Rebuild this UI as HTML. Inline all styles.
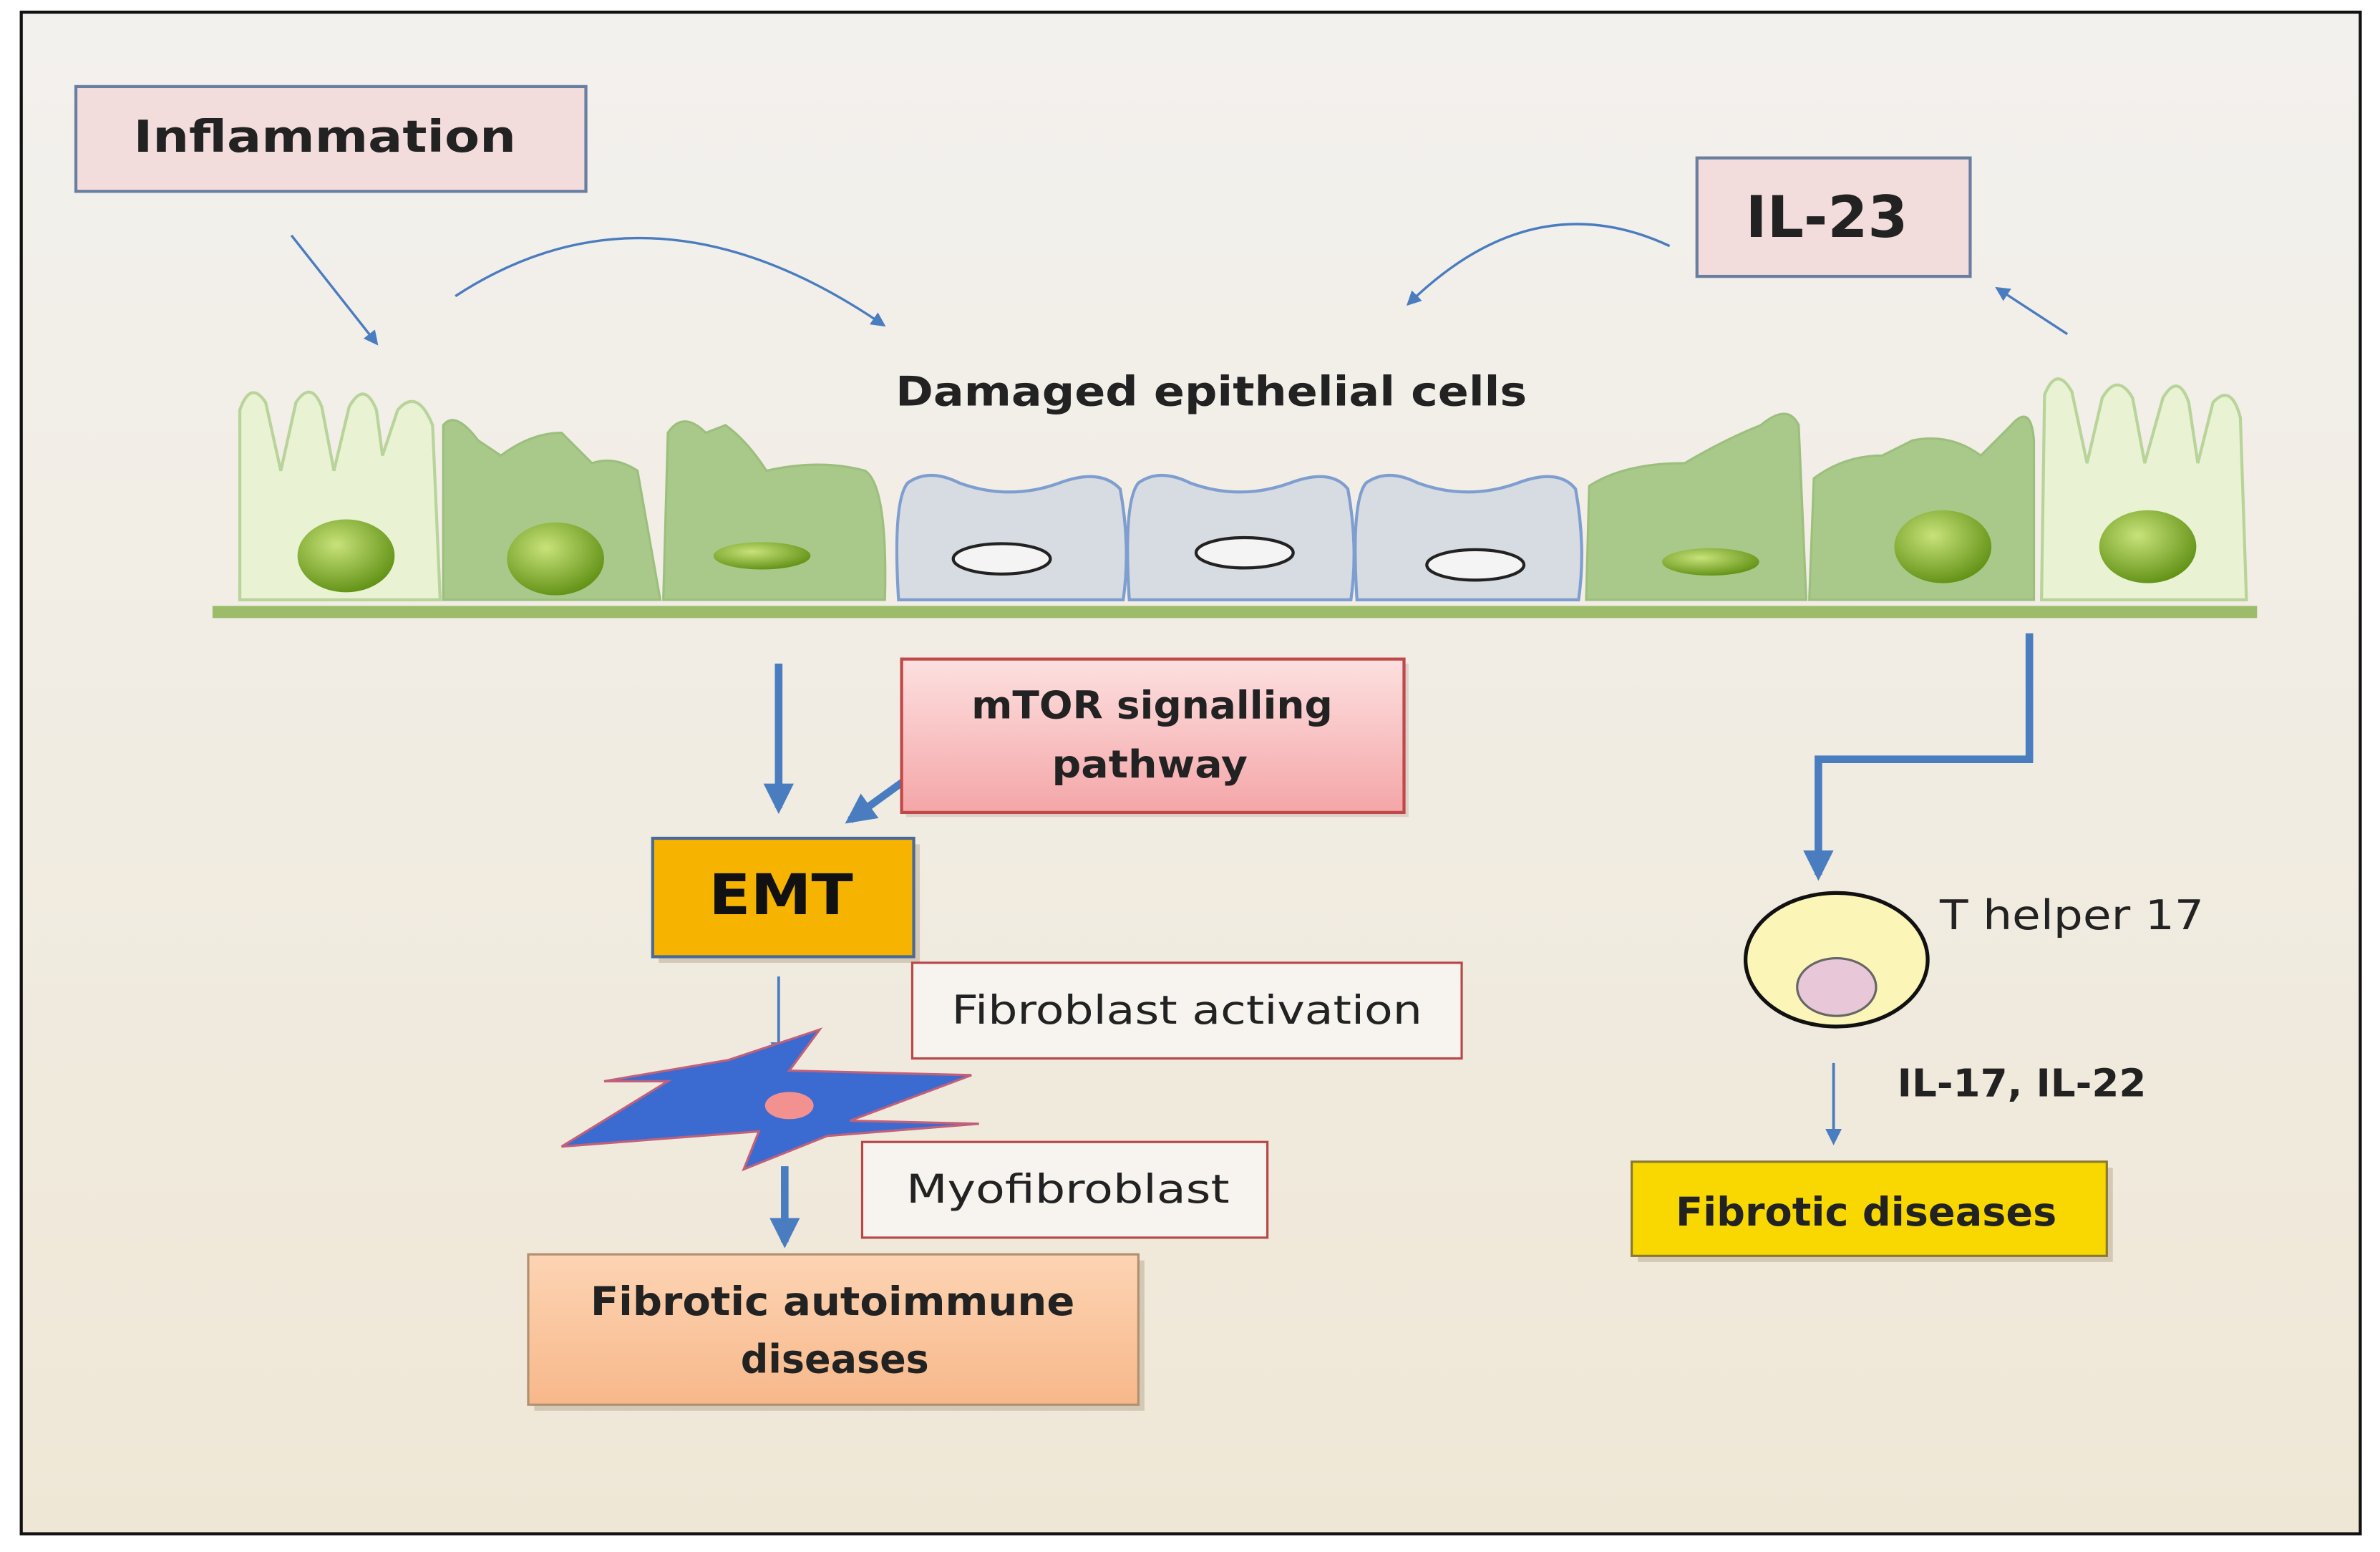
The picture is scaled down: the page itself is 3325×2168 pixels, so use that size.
<!DOCTYPE html>
<html><head><meta charset="utf-8"><style>
html,body{margin:0;padding:0;background:#fff}
svg{display:block}
text{font-family:"DejaVu Sans","Liberation Sans",sans-serif}
</style></head><body>
<svg width="3325" height="2168" viewBox="0 0 1568 1022" preserveAspectRatio="none" xmlns="http://www.w3.org/2000/svg">
<defs>
<linearGradient id="bg" x1="0" y1="0" x2="0" y2="1"><stop offset="0" stop-color="#f3f1ee"/><stop offset="1" stop-color="#efe7d6"/></linearGradient>
<linearGradient id="pink" x1="0" y1="0" x2="0" y2="1"><stop offset="0" stop-color="#fde0e0"/><stop offset="1" stop-color="#f4a6a8"/></linearGradient>
<linearGradient id="peach" x1="0" y1="0" x2="0" y2="1"><stop offset="0" stop-color="#fdd4b4"/><stop offset="1" stop-color="#f7b88a"/></linearGradient>
<radialGradient id="nuc" cx="0.4" cy="0.35" r="0.7"><stop offset="0" stop-color="#c8e27a"/><stop offset="1" stop-color="#5e8f12"/></radialGradient>
<marker id="ah" viewBox="0 0 10 10" refX="8" refY="5" markerWidth="6" markerHeight="6" orient="auto"><path d="M0,0 L10,5 L0,10 z" fill="#4a7cc0"/></marker>
<marker id="ah2" viewBox="0 0 10 10" refX="8" refY="5" markerWidth="4" markerHeight="4" orient="auto"><path d="M0,0 L10,5 L0,10 z" fill="#4a7cc0"/></marker>
</defs>
<rect x="0" y="0" width="1568" height="1022" fill="#fff"/>
<rect x="14" y="8" width="1541" height="1002" fill="url(#bg)" stroke="#111" stroke-width="2"/>

<rect x="50" y="57" width="336" height="69" fill="#f2dcdc" stroke="#6a7fa0" stroke-width="2"/>
<text x="88" y="100" font-size="29" font-weight="bold" textLength="252" lengthAdjust="spacingAndGlyphs" fill="#222">Inflammation</text>
<rect x="1118" y="104" width="180" height="78" fill="#f2dcdc" stroke="#6a7fa0" stroke-width="2"/>
<text x="1150" y="156" font-size="38" font-weight="bold" textLength="107" lengthAdjust="spacingAndGlyphs" fill="#222">IL-23</text>

<g stroke="#4a7cc0" stroke-width="1.6" fill="none">
<path d="M192,155 L248,226" marker-end="url(#ah)"/>
<path d="M300,195 Q430,110 582,214" marker-end="url(#ah)"/>
<path d="M1100,162 Q1010,120 928,200" marker-end="url(#ah)"/>
<path d="M1362,220 L1316,190" marker-end="url(#ah)"/>
</g>
<text x="590" y="267" font-size="27" font-weight="bold" textLength="416" lengthAdjust="spacingAndGlyphs" fill="#222">Damaged epithelial cells</text>

<g stroke="#b9d49a" stroke-width="2">
<path d="M158,395 L158,270 Q165,250 175,265 L185,310 L195,265 Q205,250 212,268 L220,310 L230,268 Q240,250 248,270 L252,300 L262,270 Q275,255 285,280 L290,395 Z" fill="#e9f3d3"/>
<path d="M1345,395 L1347,260 Q1355,240 1365,258 L1375,305 L1385,262 Q1395,245 1405,262 L1413,305 L1425,262 Q1435,245 1442,265 L1448,305 L1458,265 Q1470,252 1476,275 L1480,395 Z" fill="#e9f3d3"/>
</g>
<g fill="#a9c98a" stroke="#9cbf7e" stroke-width="1.5">
<path d="M292,395 L292,280 Q300,270 315,290 L330,300 Q350,285 370,285 L390,305 Q405,300 420,310 L435,395 Z"/>
<path d="M437,395 L440,285 Q450,270 465,285 L478,280 Q492,290 505,310 Q540,302 570,310 Q585,320 583,395 Z"/>
<path d="M1045,395 L1047,320 Q1070,305 1110,305 Q1135,290 1160,280 Q1178,265 1185,280 L1190,395 Z"/>
<path d="M1192,395 L1195,315 Q1215,300 1240,300 L1260,290 Q1285,285 1305,300 L1325,280 Q1338,265 1340,290 L1340,395 Z"/>
</g>
<g fill="#d7dbe2" stroke="#7e9ed0" stroke-width="2">
<path d="M592,395 Q588,330 598,318 Q612,308 632,318 Q665,330 698,318 Q725,308 738,322 Q745,360 740,395 Z"/>
<path d="M744,395 Q740,330 750,318 Q764,308 784,318 Q817,330 850,318 Q877,308 888,322 Q895,360 890,395 Z"/>
<path d="M894,395 Q890,330 900,318 Q914,308 934,318 Q967,330 1000,318 Q1027,308 1038,322 Q1045,360 1040,395 Z"/>
</g>
<g fill="url(#nuc)">
<ellipse cx="228" cy="366" rx="32" ry="24"/>
<ellipse cx="366" cy="368" rx="32" ry="24"/>
<ellipse cx="502" cy="366" rx="32" ry="9"/>
<ellipse cx="1127" cy="370" rx="32" ry="9"/>
<ellipse cx="1280" cy="360" rx="32" ry="24"/>
<ellipse cx="1415" cy="360" rx="32" ry="24"/>
</g>
<g fill="#f4f4f4" stroke="#222" stroke-width="2">
<ellipse cx="660" cy="368" rx="32" ry="10"/>
<ellipse cx="820" cy="364" rx="32" ry="10"/>
<ellipse cx="972" cy="372" rx="32" ry="10"/>
</g>
<rect x="140" y="399" width="1347" height="8" fill="#9cbc6a"/>

<g stroke="#4a7cc0" fill="none">
<path d="M513,437 L513,532" stroke-width="5" marker-end="url(#ah2)"/>
<path d="M596,514 L560,540" stroke-width="5" marker-end="url(#ah2)"/>
<path d="M513,643 L513,695" stroke-width="1.8" marker-end="url(#ah)"/>
<path d="M517,768 L517,818" stroke-width="5" marker-end="url(#ah2)"/>
<path d="M1337,417 L1337,500 L1198,500 L1198,576" stroke-width="5" marker-end="url(#ah2)"/>
<path d="M1208,700 L1208,752" stroke-width="1.8" marker-end="url(#ah)"/>
</g>
<rect x="597" y="437" width="331" height="101" fill="#c8b8b0" opacity="0.5"/>
<rect x="594" y="434" width="331" height="101" fill="url(#pink)" stroke="#c04848" stroke-width="2"/>
<text x="640" y="473" font-size="25" font-weight="bold" textLength="238" lengthAdjust="spacingAndGlyphs" fill="#222">mTOR signalling</text>
<text x="693" y="512" font-size="25" font-weight="bold" textLength="129" lengthAdjust="spacingAndGlyphs" fill="#222">pathway</text>
<rect x="434" y="556" width="172" height="78" fill="#b8a890" opacity="0.5"/>
<rect x="430" y="552" width="172" height="78" fill="#f6b300" stroke="#4a6a96" stroke-width="2"/>
<text x="467" y="602" font-size="37" font-weight="bold" textLength="95" lengthAdjust="spacingAndGlyphs" fill="#111">EMT</text>
<rect x="601" y="634" width="362" height="63" fill="#f7f3ee" stroke="#b84848" stroke-width="1.5"/>
<text x="627" y="674" font-size="26" textLength="310" lengthAdjust="spacingAndGlyphs" fill="#222">Fibroblast activation</text>
<path d="M370,755 L440,712 L398,712 L480,698 L540,678 L520,705 L640,708 L560,738 L645,740 L545,748 L490,770 L500,745 Z" fill="#3b6bd0" stroke="#c0607a" stroke-width="1.5"/>
<ellipse cx="520" cy="728" rx="16" ry="9" fill="#f39090"/>
<rect x="568" y="752" width="267" height="63" fill="#f7f3ee" stroke="#b84848" stroke-width="1.5"/>
<text x="597" y="792" font-size="26" textLength="213" lengthAdjust="spacingAndGlyphs" fill="#222">Myofibroblast</text>
<rect x="352" y="830" width="402" height="99" fill="#b8a890" opacity="0.5"/>
<rect x="348" y="826" width="402" height="99" fill="url(#peach)" stroke="#b09070" stroke-width="1.5"/>
<text x="389" y="866" font-size="26" font-weight="bold" textLength="319" lengthAdjust="spacingAndGlyphs" fill="#222">Fibrotic autoimmune</text>
<text x="488" y="904" font-size="26" font-weight="bold" textLength="124" lengthAdjust="spacingAndGlyphs" fill="#222">diseases</text>

<ellipse cx="1210" cy="632" rx="60" ry="44" fill="#fbf6b8" stroke="#111" stroke-width="2.5"/>
<ellipse cx="1210" cy="650" rx="26" ry="19" fill="#e8c8d8" stroke="#666" stroke-width="1.5"/>
<text x="1278" y="612" font-size="27" textLength="174" lengthAdjust="spacingAndGlyphs" fill="#222">T helper 17</text>
<text x="1250" y="722" font-size="25" font-weight="bold" textLength="164" lengthAdjust="spacingAndGlyphs" fill="#222">IL-17, IL-22</text>
<rect x="1079" y="769" width="313" height="62" fill="#b8a890" opacity="0.5"/>
<rect x="1075" y="765" width="313" height="62" fill="#f8d800" stroke="#8a7a30" stroke-width="1.5"/>
<text x="1104" y="807" font-size="26" font-weight="bold" textLength="251" lengthAdjust="spacingAndGlyphs" fill="#222">Fibrotic diseases</text>
</svg>
</body></html>
